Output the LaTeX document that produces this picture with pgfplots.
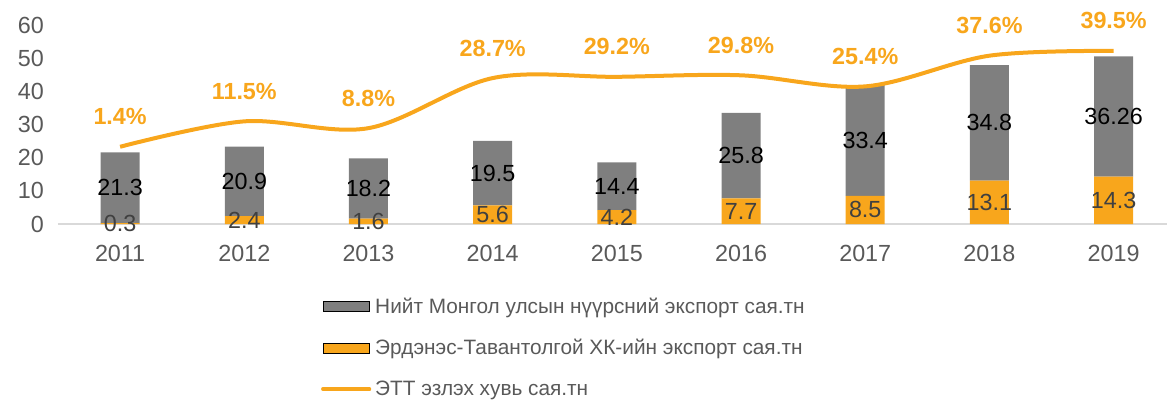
\documentclass[border=0pt]{standalone}
\usepackage{fontspec}
\setmainfont{Liberation Sans}
\usepackage{pgfplots}
\usepackage{pgfplotstable}
\pgfplotsset{compat=1.18}
\definecolor{ettorange}{RGB}{248,166,28}
\definecolor{bargrey}{RGB}{127,127,127}
\definecolor{txtgrey}{RGB}{89,89,89}
\definecolor{lblgrey}{RGB}{64,64,64}
\definecolor{zeroline}{RGB}{217,217,217}

% x: 0 = 2011 ... 8 = 2019
\pgfplotstableread{
x  ett   rest   pct
0  0.3   21.3   1.4
1  2.4   20.9   11.5
2  1.6   18.2   8.8
3  5.6   19.5   28.7
4  4.2   14.4   29.2
5  7.7   25.8   29.8
6  8.5   33.4   25.4
7  13.1  34.8   37.6
8  14.3  36.26  39.5
}\coal

\pgfplotsset{
  samebox/.style={scale only axis, width=831.75pt, height=149.25pt,
    xmin=-0.5, xmax=8.43},
  barlabel/.style={draw=none, mark=none, nodes near coords,
    point meta=explicit symbolic, nodes near coords align=center,
    every node near coord/.append style={anchor=center, inner sep=0pt,
      font=\fontsize{17.5}{20}\selectfont, text=#1}},
  barleg/.style={legend image code/.code={\fill[#1] (0pt,-3.75pt) rectangle (35pt,3.75pt);}},
}

\begin{document}
\begin{tikzpicture}
\begin{axis}[name=ax, samebox, ymin=0, ymax=60,
  ybar stacked, bar width=0.314,
  axis x line*=bottom, axis y line*=left,
  x axis line style={-, draw=zeroline, line width=1.2pt},
  y axis line style={draw=none},
  major tick length=0pt,
  xtick={0,...,8},
  xticklabels={2011,2012,2013,2014,2015,2016,2017,2018,2019},
  ytick={0,10,...,60},
  tick label style={font=\fontsize{17.5}{20}\selectfont, text=txtgrey, inner sep=0pt,
    /pgf/number format/assume math mode=true},
  xticklabel style={anchor=north, yshift=-15.5pt},
  yticklabel style={anchor=east, xshift=-10.5pt},
  legend style={at={(0.237,-0.357)}, anchor=north west, draw=none, fill=none,
    font=\fontsize{15.6}{17.5}\selectfont, text=txtgrey, row sep=14pt, inner sep=0pt,
    nodes={inner xsep=3pt}},
  legend cell align=left,
]
\addplot[fill=ettorange, draw=none, forget plot] table[x=x, y=ett] \coal;
\addplot[fill=bargrey, draw=none, forget plot] table[x=x, y=rest] \coal;

\addlegendimage{barleg, fill=bargrey}
\addlegendentry{Нийт Монгол улсын нүүрсний экспорт сая.тн}
\addlegendimage{barleg, fill=ettorange}
\addlegendentry{Эрдэнэс-Тавантолгой ХК-ийн экспорт сая.тн}
\addlegendimage{legend image code/.code={\draw[ettorange, line width=2.6pt, line cap=round] (0pt,0pt) -- (35pt,0pt);}}
\addlegendentry{ЭТТ эзлэх хувь сая.тн}
\end{axis}

% value labels in the middle of each bar segment
\begin{axis}[samebox, ymin=0, ymax=60, hide axis, clip=false]
\addplot[barlabel=lblgrey] table[x=x, y expr=\thisrow{ett}/2, meta=ett] \coal;
\addplot[barlabel=black] table[x=x, y expr=\thisrow{ett}+\thisrow{rest}/2, meta=rest] \coal;
\end{axis}

\begin{axis}[samebox, ymin=-29.3, ymax=49.8, hide axis, clip=false]
\addplot[ettorange, line width=3pt, smooth, tension=0.55,
  nodes near coords={\pgfmathprintnumber[fixed, fixed zerofill, precision=1, assume math mode=true]{\pgfplotspointmeta}\%},
  point meta=y,
  every node near coord/.append style={anchor=base, inner sep=0pt, yshift=16.5pt,
    font=\fontsize{17.5}{20}\selectfont\bfseries, text=ettorange}]
  table[x=x, y=pct] \coal;
\end{axis}

\pgfresetboundingbox
\path (ax.south west) ++(-43.5pt,168pt) rectangle ++(875.25pt,-300.75pt);
\end{tikzpicture}
\end{document}
